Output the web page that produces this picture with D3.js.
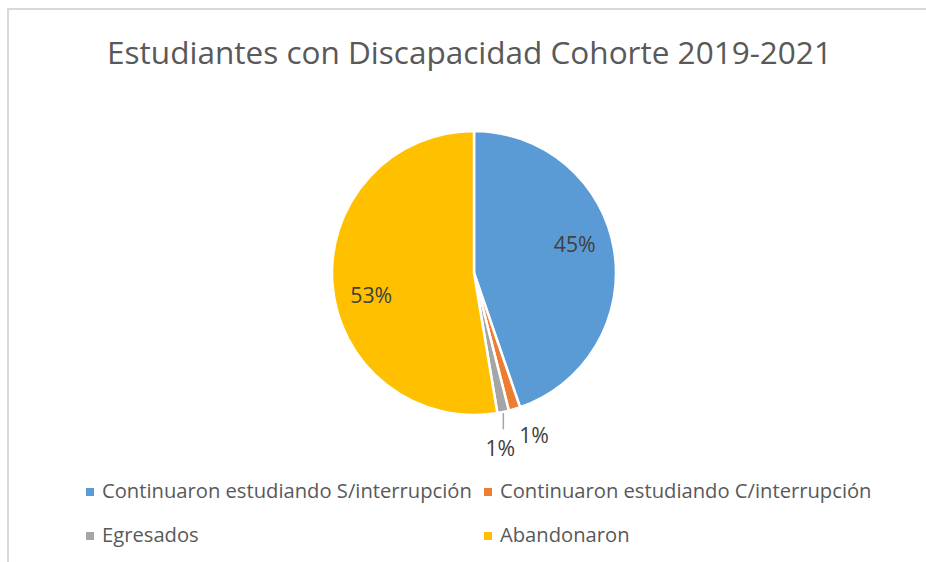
<!DOCTYPE html>
<html><head><meta charset="utf-8">
<script src="https://cdn.jsdelivr.net/npm/d3@7"></script>
<style>html,body{margin:0;padding:0;background:#fff;}svg{display:block;}</style>
</head><body>
<svg id="chart" width="926" height="562"></svg>
<script>
const title = "Estudiantes con Discapacidad Cohorte 2019-2021";
const categories = ["Continuaron estudiando S/interrupción", "Continuaron estudiando C/interrupción", "Egresados", "Abandonaron"];
const values = [34, 1, 1, 40];
const labels = ["45%", "1%", "1%", "53%"];
const colors = ["#5B9BD5", "#ED7D31", "#A5A5A5", "#FFC000"];

const svg = d3.select("#chart");
const W = 926, H = 562;
const font = "'Open Sans', 'Noto Sans', sans-serif";

// frame
svg.append("path").attr("d", `M8,${H} L8,9 L${W},9`).attr("fill", "none")
  .attr("stroke", "#d9d9d9").attr("stroke-width", 2);

function fit(sel, target) {
  const n = sel.node();
  const fs = parseFloat(sel.attr("font-size"));
  const w = n.getComputedTextLength();
  sel.attr("font-size", fs * target / w);
  return fs * target / w;
}

// title
const t = svg.append("text").attr("x", 469.5).attr("y", 63.5).attr("text-anchor", "middle")
  .attr("font-family", font).attr("font-size", 30).attr("fill", "#595959").text(title);
fit(t, 725);

// pie
const cx = 474, cy = 273, R = 142;
const g = svg.append("g").attr("transform", `translate(${cx},${cy})`);
const pie = d3.pie().sort(null).value(d => d)(values);
const arc = d3.arc().innerRadius(0).outerRadius(R);
g.selectAll("path.slice").data(pie).join("path").attr("class", "slice")
  .attr("d", arc).attr("fill", (d, i) => colors[i])
  .attr("stroke", "#fff").attr("stroke-width", 2.5).attr("stroke-linejoin", "round");

// label font size from the 45% label width
const probe = svg.append("text").attr("font-family", font).attr("font-size", 18).text(labels[0]);
const labelFs = fit(probe, 42);
probe.remove();

const inside = [0, 3];
const rot = -7 * Math.PI / 180;
pie.forEach((d, i) => {
  const mid = (d.startAngle + d.endAngle) / 2;
  let x, y;
  if (inside.includes(i)) {
    const a = mid + rot;
    x = Math.sin(a) * 105; y = -Math.cos(a) * 105;
  } else {
    const a = mid;
    const r = 172;
    x = Math.sin(a) * r; y = -Math.cos(a) * r;
    if (i === 1) { x += 11; y -= 3; }
    if (i === 2) {
      x -= 9; y += 6;
      const px = Math.sin(a) * (R + 1), py = -Math.cos(a) * (R + 1);
      g.append("line").attr("x1", px).attr("y1", py).attr("x2", px).attr("y2", y - 18)
        .attr("stroke", "#a6a6a6").attr("stroke-width", 1.5);
    }
  }
  g.append("text").attr("x", x).attr("y", y).attr("text-anchor", "middle")
    .attr("dominant-baseline", "central")
    .attr("font-family", font).attr("font-size", labelFs).attr("fill", "#404040").text(labels[i]);
});

// legend
const legendPos = [[86, 492], [484, 492], [86, 536], [484, 536]];
const probe2 = svg.append("text").attr("font-family", font).attr("font-size", 18).text(categories[0]);
const legendFs = fit(probe2, 370);
probe2.remove();
categories.forEach((c, i) => {
  const [lx, ly] = legendPos[i];
  svg.append("rect").attr("x", lx).attr("y", ly - 4).attr("width", 8).attr("height", 8).attr("fill", colors[i]);
  svg.append("text").attr("x", lx + 16).attr("y", ly + 6)
    .attr("font-family", font).attr("font-size", legendFs).attr("fill", "#595959").text(c);
});
</script>
</body></html>
